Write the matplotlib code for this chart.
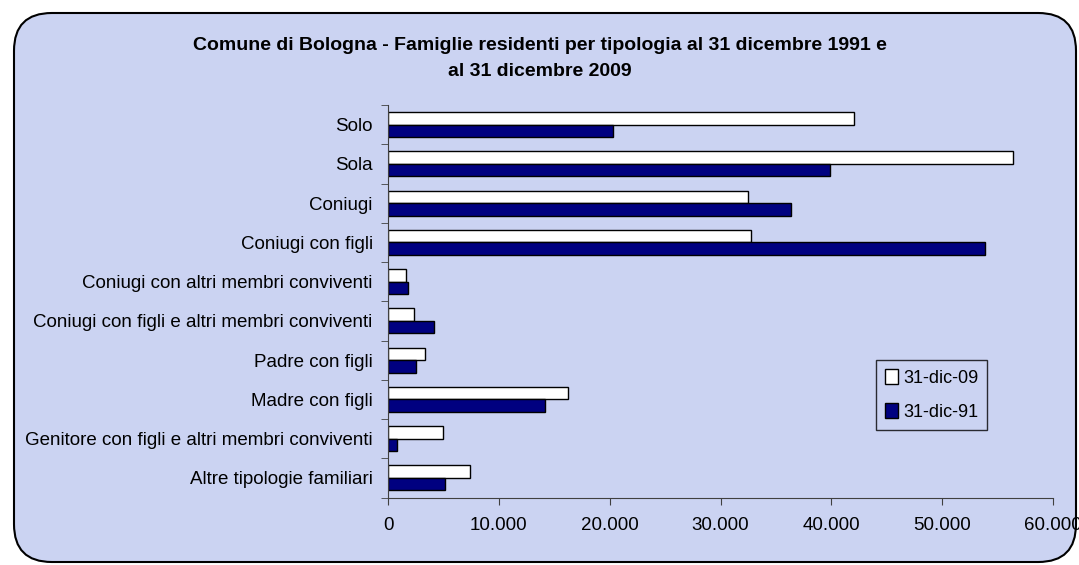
import numpy as np
import matplotlib
matplotlib.use('Agg')
import matplotlib.pyplot as plt
from matplotlib.patches import FancyBboxPatch, Patch

categorie = ['Solo', 'Sola', 'Coniugi', 'Coniugi con figli',
             'Coniugi con altri membri conviventi',
             'Coniugi con figli e altri membri conviventi',
             'Padre con figli', 'Madre con figli',
             'Genitore con figli e altri membri conviventi',
             'Altre tipologie familiari']
dic09 = [42070, 56360, 32450, 32740, 1580, 2390, 3350, 16210, 4970, 7370]
dic91 = [20260, 39850, 36320, 53850, 1770, 4160, 2570, 14140, 770, 5150]
serie = ['31-dic-09', '31-dic-91']
xtick_vals = [0, 10000, 20000, 30000, 40000, 50000, 60000]
xtick_lab = ['0', '10.000', '20.000', '30.000', '40.000', '50.000', '60.000']

plt.rcParams['font.family'] = ['Liberation Sans', 'DejaVu Sans']

W, H = 1079, 565
fig = plt.figure(figsize=(W/100, H/100), dpi=100)
fig.patch.set_facecolor('white')

# sfondo arrotondato del grafico
bg = FancyBboxPatch((14/W, 1-562/H), (1076-14)/W, (562-13)/H,
                    boxstyle='round,pad=0,rounding_size=0.035',
                    transform=fig.transFigure, facecolor='#cbd3f2',
                    edgecolor='black', linewidth=1.5,
                    mutation_aspect=W/H, zorder=-10)
fig.patches.append(bg)

ax = fig.add_axes([388/W, 1-497.5/H, (1053-388)/W, (497.5-105)/H])
ax.set_facecolor('none')

n = len(categorie)
y = np.arange(n)
h = 0.32
ax.barh(y - h/2, dic09, height=h, color='white', edgecolor='black', linewidth=1)
ax.barh(y + h/2, dic91, height=h, color='#000080', edgecolor='black', linewidth=1)

ax.set_ylim(n - 0.5, -0.5)
ax.set_xlim(0, 60000)
ax.set_yticks(y)
ax.set_yticklabels(categorie, fontsize=13.5)
ax.set_yticks(np.arange(n + 1) - 0.5, minor=True)
ax.tick_params(axis='y', which='major', length=0, pad=11)
ax.tick_params(axis='y', which='minor', length=5, color='#404040')
ax.set_xticks(xtick_vals)
ax.set_xticklabels(xtick_lab, fontsize=13.5)
ax.tick_params(axis='x', length=5, color='#404040', pad=9)

for s in ['top', 'right']:
    ax.spines[s].set_visible(False)
for s in ['left', 'bottom']:
    ax.spines[s].set_color('#404040')

fig.text(540/W, 1-45/H, 'Comune di Bologna - Famiglie residenti per tipologia al 31 dicembre 1991 e',
         ha='center', va='center', fontsize=14, fontweight='bold')
fig.text(540/W, 1-71/H, 'al 31 dicembre 2009',
         ha='center', va='center', fontsize=14, fontweight='bold')

handles = [Patch(facecolor='white', edgecolor='black'),
           Patch(facecolor='#000080', edgecolor='black')]
leg = fig.legend(handles, serie, loc='upper left',
                 bbox_to_anchor=(876/W, 1-360/H), fontsize=13,
                 frameon=True, fancybox=False, handlelength=0.7,
                 handleheight=0.9, handletextpad=0.3, labelspacing=0.9,
                 borderpad=0.5, borderaxespad=0)
leg.get_frame().set_edgecolor('black')
leg.get_frame().set_facecolor('none')
leg.get_frame().set_linewidth(1)

fig.savefig('out.png', dpi=100)
